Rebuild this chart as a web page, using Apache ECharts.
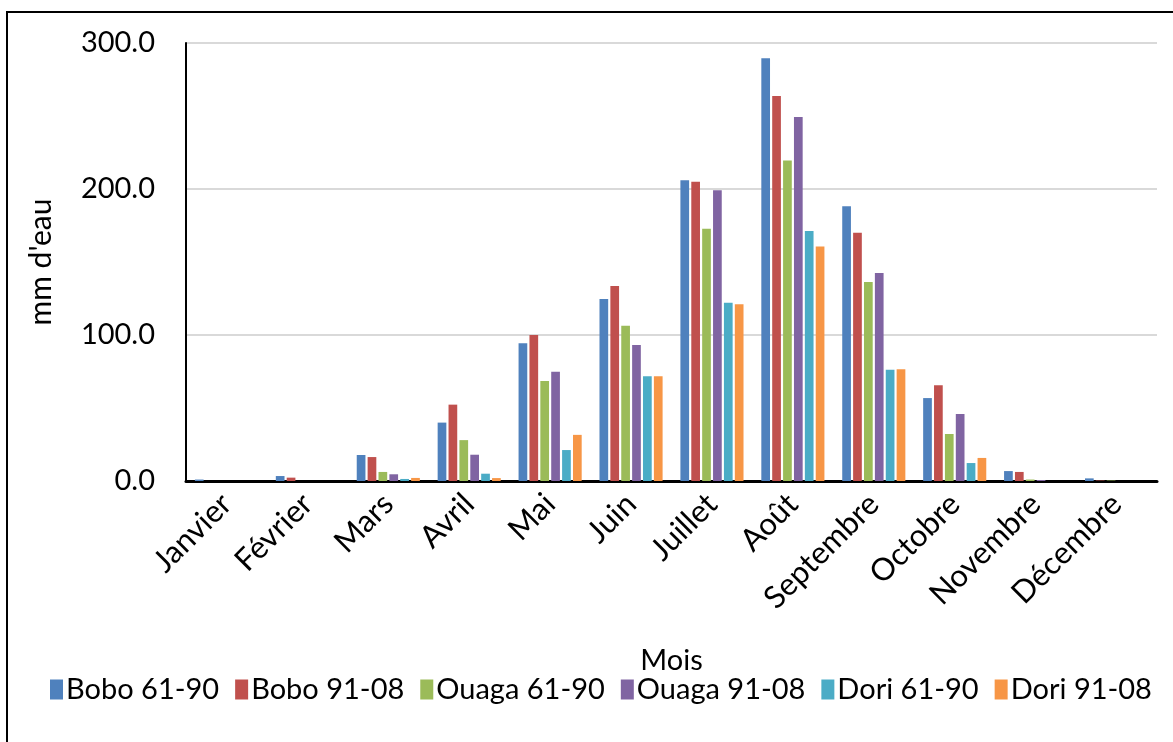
<!DOCTYPE html>
<html><head><meta charset="utf-8">
<script src="https://cdn.jsdelivr.net/npm/echarts@6/dist/echarts.min.js"></script>
<style>html,body{margin:0;padding:0;background:#fff}#c{width:1173px;height:742px}</style>
</head><body><div id="c"></div>
<script>
const categories = ["Janvier","Février","Mars","Avril","Mai","Juin","Juillet","Août","Septembre","Octobre","Novembre","Décembre"];
const seriesNames = ["Bobo 61-90","Bobo 91-08","Ouaga 61-90","Ouaga 91-08","Dori 61-90","Dori 91-08"];
const bobo6190  = [1.0, 3.4, 17.8, 40.0, 94.3, 124.7, 206.0, 289.5, 188.1, 56.8, 6.8, 1.8];
const bobo9108  = [0.0, 2.3, 16.4, 52.3, 100.0, 133.6, 205.0, 263.7, 170.1, 65.5, 6.2, 0.3];
const ouaga6190 = [0.0, 0.0, 6.2, 28.0, 68.5, 106.4, 172.8, 219.6, 136.3, 32.2, 1.0, 0.3];
const ouaga9108 = [0.0, 0.0, 4.6, 18.0, 74.9, 93.2, 199.1, 249.3, 142.5, 45.9, 0.7, 0.0];
const dori6190  = [0.0, 0.0, 1.4, 5.0, 21.2, 71.7, 122.1, 171.2, 76.2, 12.3, 0.0, 0.0];
const dori9108  = [0.0, 0.0, 2.1, 2.0, 31.6, 71.7, 121.0, 160.7, 76.5, 15.8, 0.0, 0.0];
const yTicks = [0, 100, 200, 300];
const colors = ["#4F81BD","#C0504D","#9BBB59","#8064A2","#4BACC6","#F79646"];
const allData = [bobo6190, bobo9108, ouaga6190, ouaga9108, dori6190, dori9108];

const FONT = "Lato";
const FS = 29;
const chart = echarts.init(document.getElementById('c'), null, {renderer:'canvas'});
chart.setOption({
  animation:false,
  textStyle:{fontFamily:FONT},
  color: colors,
  graphic:[{type:'rect', shape:{x:7,y:12,width:1200,height:800}, style:{fill:'none', stroke:'#000', lineWidth:2}, silent:true}],
  grid:{left:186, right:16, top:43, bottom:261, containLabel:false},
  legend:{
    data: seriesNames, bottom:33, left:50, width:1123, padding:[5,0,5,0],
    itemWidth:13, itemHeight:20, itemGap:16,
    icon:'rect',
    textStyle:{fontSize:FS, color:'#000', fontFamily:FONT, padding:[0,0,0,-2]}
  },
  xAxis:{
    type:'category', data: categories,
    name:'Mois', nameLocation:'middle', nameGap:165,
    nameTextStyle:{fontSize:FS, color:'#000', fontFamily:FONT},
    axisLine:{lineStyle:{color:'#000', width:3}},
    axisTick:{show:false},
    axisLabel:{rotate:45, fontSize:31, color:'#000', margin:18, interval:0, fontFamily:FONT}
  },
  yAxis:{
    type:'value', min:yTicks[0], max:yTicks[yTicks.length-1], interval:100,
    name:"mm d'eau", nameLocation:'middle', nameGap:130, nameRotate:90,
    nameTextStyle:{fontSize:30, color:'#000', fontFamily:FONT},
    axisLine:{show:true, lineStyle:{color:'#000', width:2}},
    axisTick:{show:false},
    splitLine:{lineStyle:{color:'#d9d9d9', width:2}},
    axisLabel:{fontSize:FS, color:'#000', margin:31, fontFamily:FONT, formatter:v=>v.toFixed(1)}
  },
  series: seriesNames.map((n,i)=>({
    name:n, type:'bar', data: allData[i],
    barGap:'25%', barCategoryGap:'22%',
    itemStyle:{color:colors[i], borderWidth:0}
  }))
});
</script></body></html>
